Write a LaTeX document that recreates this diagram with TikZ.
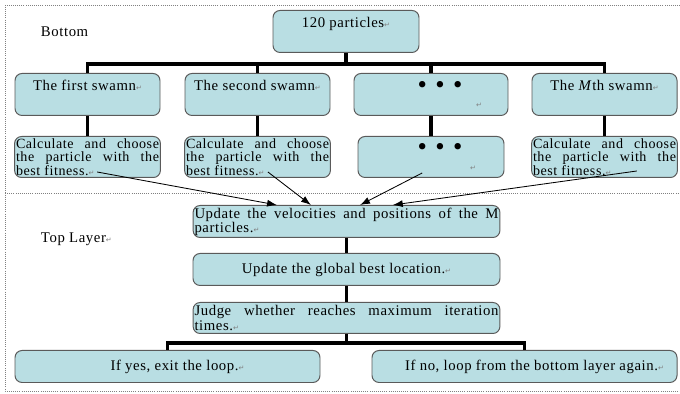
\documentclass[tikz,border=0pt]{standalone}
\usepackage{fontspec}
\setmainfont{Liberation Serif}[LetterSpace=4]
\newfontfamily\symfont{DejaVu Sans}
\usetikzlibrary{arrows.meta,positioning,calc}
\definecolor{boxfill}{RGB}{185,222,227}
\definecolor{boxline}{RGB}{90,90,90}
\newcommand{\pmark}{{\symfont\fontsize{5}{5}\selectfont\textcolor{gray}{↵}}}
\newcommand{\dotrow}{{\fontsize{19}{14}\selectfont\hspace*{0.45cm}\textbullet\hspace{6pt}\textbullet\hspace{6pt}\textbullet}}
\hyphenpenalty=10000
\hbadness=10000

\begin{document}
\begin{tikzpicture}[font=\fontsize{10.5}{10}\selectfont,
  box/.style={draw=boxline, fill=boxfill, rounded corners=5pt, line width=0.7pt, inner xsep=1pt, inner ysep=0pt, anchor=north},
  tline/.style={text height=0.43cm, text depth=0.62cm},
  para/.style={text width=#1, align=justify},
  small/.style={font=\fontsize{10}{9.6}\selectfont},
  link/.style={line width=2.2pt},
  pull/.style={-{Latex[length=7pt,width=5pt]}, line width=0.6pt},
  frame/.style={densely dotted, gray, line width=0.5pt}]
\useasboundingbox (0,0) rectangle (17,-9.85);
\draw[frame] (17,-0.125) -- (0.125,-0.125) -- (0.125,-9.775) -- (17,-9.775);
\draw[frame] (0.125,-4.825) -- (17,-4.825);
\node[anchor=base west] (bottom) at (0.9,-0.925) {Bottom};
\node[anchor=base west] (toplayer) at (0.9,-6.075) {Top Layer\pmark};

% bottom layer
\node[box, tline, minimum width=3.65cm] (parts) at (8.65,-0.25) {120 particles\pmark};
\node[box, tline, minimum width=3.625cm] (sw1) at (2.1875,-1.825) {The first swamn\pmark};
\node[box, tline, minimum width=3.625cm] (sw2) at (6.4375,-1.825) {The second swamn\pmark};
\node[box, minimum width=3.85cm, minimum height=1.05cm, align=center] (swd) at (10.775,-1.825) {\dotrow\\\hspace*{2.4cm}\pmark};
\node[box, tline, minimum width=3.625cm] (swm) at (15.1125,-1.825) {The \textit{M}th swamn\pmark};

\node[box, small, para=3.575cm, minimum height=1.025cm] (best1) at (2.1875,-3.4) {Calculate and choose\linebreak the particle with the\linebreak best fitness.\pmark};
\node[box, small, para=3.575cm, minimum height=1.025cm] (best2) at (6.4375,-3.4) {Calculate and choose\linebreak the particle with the\linebreak best fitness.\pmark};
\node[box, minimum width=3.65cm, minimum height=1.025cm, align=center] (bestd) at (10.775,-3.4) {\dotrow\\\hspace*{2.1cm}\pmark};
\node[box, small, para=3.575cm, minimum height=1.025cm] (bestm) at (15.1125,-3.4) {Calculate and choose\linebreak the particle with the\linebreak best fitness.\pmark};

\draw[link] (parts.south) -- ++(0,-0.275) coordinate (hub);
\draw[link] (sw1.north) |- (hub) -| (swm.north);
\draw[link] (sw2.north) -- (sw2.north |- hub);
\draw[link] (swd.north) -- (swd.north |- hub);
\foreach \s/\b in {sw1/best1, sw2/best2, swd/bestd, swm/bestm}
  \draw[link] (\s.south) -- (\b.north);

% top layer
\node[box, para=7.6cm, minimum height=0.8cm] (upd) at (8.6625,-5.125) {Update the velocities and positions of the M\linebreak particles.\pmark};
\node[box, minimum width=7.675cm, minimum height=0.8cm] (glob) at (8.6625,-6.325) {Update the global best location.\pmark};
\node[box, para=7.6cm, minimum height=0.775cm] (judge) at (8.6625,-7.55) {Judge whether reaches maximum iteration\linebreak times.\pmark};
\node[box, minimum width=7.625cm, minimum height=0.8cm] (yes) at (4.1875,-8.75) {\hspace*{0.5cm}If yes, exit the loop.\pmark};
\node[box, minimum width=7.625cm, minimum height=0.8cm] (no) at (13.1125,-8.75) {\hspace*{0.5cm}If no, loop from the bottom layer again.\pmark};

\draw[link] (upd.south) -- (glob.north);
\draw[link] (glob.south) -- (judge.north);
\draw[link] (judge.south) -- ++(0,-0.225) coordinate (jhub);
\draw[link] (yes.north) |- (jhub) -| (no.north);

% best particles handed up
\coordinate (from1) at ($(best1.south)+(0.24,0.15)$);
\coordinate (from2) at ($(best2.south)+(0.26,0.15)$);
\coordinate (fromd) at ($(bestd.south)+(-0.22,0.125)$);
\coordinate (fromm) at ($(bestm.south)+(0.81,0.175)$);
\draw[pull] (from1) -- ($(upd.north)+(-1.74,0)$);
\draw[pull] (from2) -- ($(upd.north)+(-0.89,0)$);
\draw[pull] (fromd) -- ($(upd.north)+(0.34,0)$);
\draw[pull] (fromm) -- ($(upd.north)+(1.16,0)$);
\end{tikzpicture}
\end{document}
